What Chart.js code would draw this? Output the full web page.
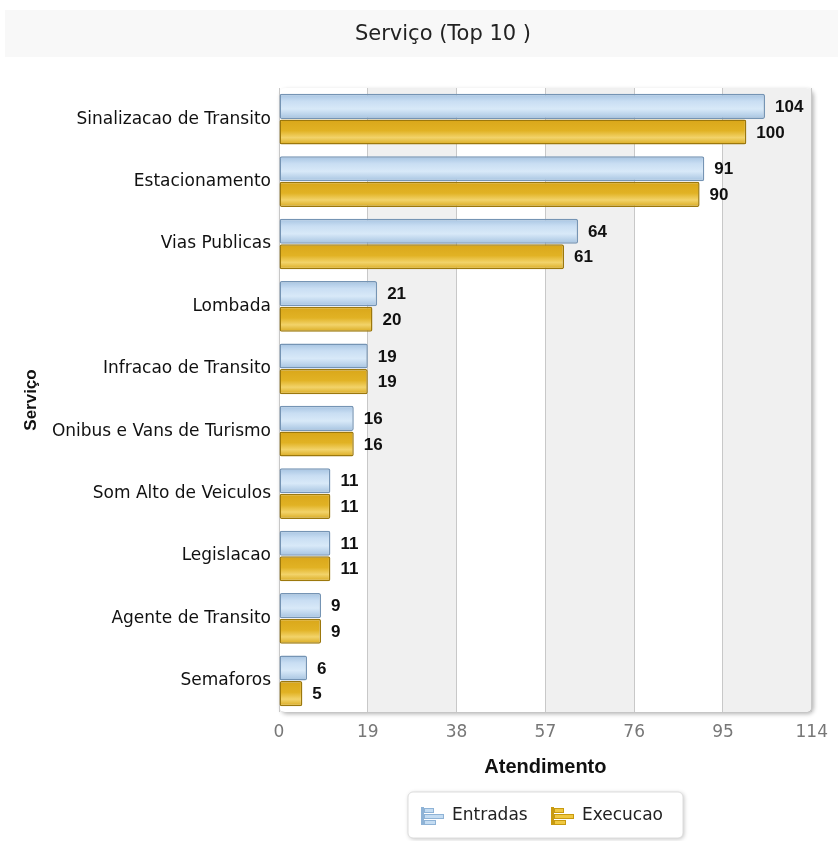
<!DOCTYPE html>
<html>
<head>
  <meta charset="UTF-8">
  <title>Serviço (Top 10 )</title>
  <script src="https://cdn.jsdelivr.net/npm/chart.js"></script>
  <style>
    html, body { margin: 0; padding: 0; background: #fff; }
    #wrap { width: 838px; height: 841px; position: relative; }
  </style>
</head>
<body>
<div id="wrap"><canvas id="chart"></canvas></div>
<script>
const categories = ['Sinalizacao de Transito', 'Estacionamento', 'Vias Publicas', 'Lombada', 'Infracao de Transito',
  'Onibus e Vans de Turismo', 'Som Alto de Veiculos', 'Legislacao', 'Agente de Transito', 'Semaforos'];
const entradas = [104, 91, 64, 21, 19, 16, 11, 11, 9, 6];
const execucao = [100, 90, 61, 20, 19, 16, 11, 11, 9, 5];
const xTicks = [0, 19, 38, 57, 76, 95, 114];

const CAT_PCT = 0.82;

// vertical gloss gradient for each bar, computed from the category scale
function barFill(stops, half) {
  return (c) => {
    const chart = c.chart;
    const y = chart.scales.y;
    if (!y || c.dataIndex === undefined) return stops[1][1];
    const center = y.getPixelForValue(c.dataIndex);
    const step = y.height / categories.length;
    const thick = step * CAT_PCT / 2;
    const top = half === 0 ? center - thick : center;
    if (!isFinite(top) || !isFinite(thick) || thick <= 0) return stops[1][1];
    const g = chart.ctx.createLinearGradient(0, top, 0, top + thick);
    stops.forEach(s => g.addColorStop(s[0], s[1]));
    return g;
  };
}
const blueStops = [[0, '#a4c2e0'], [0.3, '#c9def3'], [0.6, '#d8e9f8'], [1, '#a3c1df']];
const goldStops = [[0, '#d9a619'], [0.45, '#e1b224'], [0.72, '#f2d36a'], [1, '#d8a81c']];

const bgPlugin = {
  id: 'bgPlugin',
  beforeDraw(chart) {
    const ctx = chart.ctx;
    const a = chart.chartArea;
    ctx.save();
    // title band
    ctx.fillStyle = '#f8f8f8';
    ctx.fillRect(5, 10, chart.width - 5, 47);
    ctx.fillStyle = '#222';
    ctx.font = '21px "DejaVu Sans", Verdana, sans-serif';
    ctx.textAlign = 'center';
    ctx.textBaseline = 'middle';
    ctx.fillText('Serviço (Top 10 )', 443, 35);
    // plot shadow + frame
    ctx.shadowColor = 'rgba(0,0,0,0.3)';
    ctx.shadowBlur = 4;
    ctx.shadowOffsetX = 2;
    ctx.shadowOffsetY = 2;
    ctx.fillStyle = '#fff';
    ctx.beginPath();
    ctx.roundRect(a.left, a.top, a.width, a.height, 6);
    ctx.fill();
    ctx.shadowColor = 'transparent';
    // alternating bands
    const x = chart.scales.x;
    ctx.save();
    ctx.beginPath();
    ctx.roundRect(a.left, a.top, a.width, a.height, 6);
    ctx.clip();
    for (let i = 0; i < xTicks.length - 1; i++) {
      if (i % 2 === 1) {
        const x0 = x.getPixelForValue(xTicks[i]);
        const x1 = x.getPixelForValue(xTicks[i + 1]);
        ctx.fillStyle = '#f0f0f0';
        ctx.fillRect(x0, a.top, x1 - x0, a.height);
      }
    }
    ctx.restore();
    ctx.restore();
  },
  afterDatasetsDraw(chart) {
    const ctx = chart.ctx;
    ctx.save();
    ctx.font = 'bold 17px "Liberation Sans", Arial, sans-serif';
    ctx.fillStyle = '#111';
    ctx.textAlign = 'left';
    ctx.textBaseline = 'middle';
    chart.data.datasets.forEach((ds, di) => {
      chart.getDatasetMeta(di).data.forEach((bar, i) => {
        ctx.fillText(String(ds.data[i]), bar.x + 10, bar.y + 1);
      });
    });
    ctx.restore();
  },
  afterDraw(chart) {
    const ctx = chart.ctx;
    const a = chart.chartArea;
    ctx.save();
    // y axis title
    ctx.translate(31, (a.top + a.bottom) / 2);
    ctx.rotate(-Math.PI / 2);
    ctx.font = 'bold 17px "Liberation Sans", Arial, sans-serif';
    ctx.fillStyle = '#111';
    ctx.textAlign = 'center';
    ctx.textBaseline = 'middle';
    ctx.fillText('Serviço', 0, 0);
    ctx.restore();

    // legend box
    ctx.save();
    const bx = 408, by = 792, bw = 275, bh = 46;
    ctx.shadowColor = 'rgba(0,0,0,0.25)';
    ctx.shadowBlur = 4;
    ctx.shadowOffsetX = 1;
    ctx.shadowOffsetY = 1;
    ctx.fillStyle = '#fff';
    ctx.beginPath();
    ctx.roundRect(bx, by, bw, bh, 5);
    ctx.fill();
    ctx.shadowColor = 'transparent';
    ctx.strokeStyle = '#ddd';
    ctx.lineWidth = 1;
    ctx.stroke();
    const items = [
      { label: chart.data.datasets[0].label, c1: '#c4dcf2', c2: '#8fb3d6', x: 421 },
      { label: chart.data.datasets[1].label, c1: '#f0c840', c2: '#c89a10', x: 551 }
    ];
    ctx.font = '17px "DejaVu Sans", Verdana, sans-serif';
    ctx.textBaseline = 'middle';
    ctx.textAlign = 'left';
    items.forEach(it => {
      const cy = 816;
      ctx.fillStyle = it.c2;
      ctx.fillRect(it.x, cy - 9, 3, 18);
      ctx.fillStyle = it.c1;
      ctx.fillRect(it.x + 3, cy - 8, 10, 5);
      ctx.fillRect(it.x + 3, cy - 2, 20, 5);
      ctx.fillRect(it.x + 3, cy + 4, 12, 5);
      ctx.strokeStyle = it.c2;
      ctx.strokeRect(it.x + 3.5, cy - 7.5, 9, 4);
      ctx.strokeRect(it.x + 3.5, cy - 1.5, 19, 4);
      ctx.strokeRect(it.x + 3.5, cy + 4.5, 11, 4);
      ctx.fillStyle = '#222';
      ctx.fillText(it.label, it.x + 31, cy);
    });
    ctx.restore();
  }
};

new Chart(document.getElementById('chart'), {
  type: 'bar',
  data: {
    labels: categories,
    datasets: [
      {
        label: 'Entradas',
        data: entradas,
        backgroundColor: barFill(blueStops, 0),
        borderColor: '#7594b4',
        borderWidth: 1.5,
        borderRadius: 2,
        borderSkipped: false
      },
      {
        label: 'Execucao',
        data: execucao,
        backgroundColor: barFill(goldStops, 1),
        borderColor: '#9c780c',
        borderWidth: 1.5,
        borderRadius: 2,
        borderSkipped: false
      }
    ]
  },
  options: {
    indexAxis: 'y',
    responsive: true,
    maintainAspectRatio: false,
    animation: false,
    layout: { padding: { top: 88, right: 26, left: 0, bottom: 0 } },
    datasets: { bar: { categoryPercentage: CAT_PCT, barPercentage: 0.98 } },
    plugins: {
      legend: { display: false },
      tooltip: { enabled: false },
      title: { display: false }
    },
    scales: {
      x: {
        min: 0,
        max: 114,
        afterBuildTicks: (s) => { s.ticks = xTicks.map(v => ({ value: v })); },
        afterFit: (s) => { s.height = 129; },
        grid: { color: '#c8c8c8', lineWidth: 1, drawTicks: false, drawOnChartArea: true },
        border: { display: false },
        ticks: {
          color: '#777',
          font: { family: '"DejaVu Sans", Verdana, sans-serif', size: 17 },
          padding: 10,
          maxRotation: 0
        },
        title: {
          display: true,
          text: 'Atendimento',
          color: '#111',
          font: { family: '"Liberation Sans", Arial, sans-serif', size: 20, weight: 'bold' },
          padding: { top: 10, bottom: 62 }
        }
      },
      y: {
        afterFit: (s) => { s.width = 279; },
        grid: { display: false, drawTicks: false },
        border: { display: false },
        ticks: {
          color: '#111',
          font: { family: '"DejaVu Sans", Verdana, sans-serif', size: 17 },
          padding: 8,
          autoSkip: false
        }
      }
    }
  },
  plugins: [bgPlugin]
});
</script>
</body>
</html>
